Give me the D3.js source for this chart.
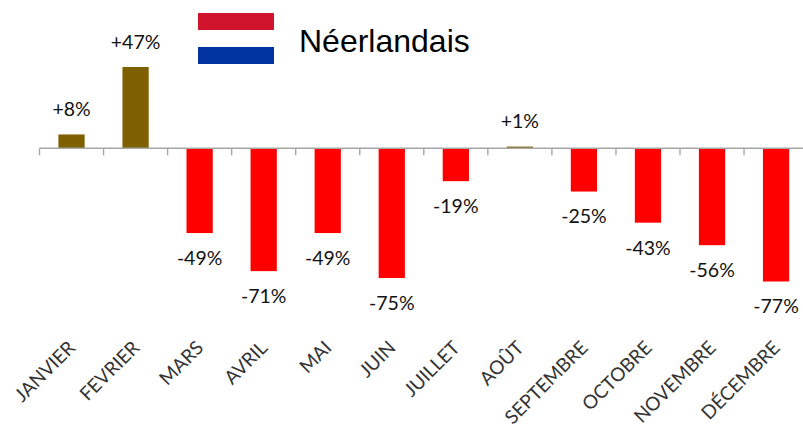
<!DOCTYPE html>
<html>
<head>
<meta charset="utf-8">
<script src="https://cdnjs.cloudflare.com/ajax/libs/d3/7.8.5/d3.min.js"></script>
<style>
  html, body { margin: 0; padding: 0; background: #fff; }
  svg { display: block; }
</style>
</head>
<body>
<script>
const mois = ["JANVIER", "FEVRIER", "MARS", "AVRIL", "MAI", "JUIN", "JUILLET", "AOÛT", "SEPTEMBRE", "OCTOBRE", "NOVEMBRE", "DÉCEMBRE"]
const valeurs = [8, 47, -49, -71, -49, -75, -19, 1, -25, -43, -56, -77]
const titre = "Néerlandais"
const drapeau = ["#cf142b", "#ffffff", "#0033a0"]

const width = 803
const height = 431

const svg = d3.select("body")
    .append("svg")
        .attr("width", width)
        .attr("height", height)

// EJE X: 12 bandes de 64px, la derniere sort a droite de l'image
const debutBandes = 39.5
const x = d3.scaleBand()
    .domain(mois)
    .range([debutBandes, debutBandes + 64.05 * 12])
    .paddingInner(0.59)
    .paddingOuter(0.295)

// EJE Y
const y = d3.scaleLinear()
    .domain([-77, 47])
    .range([281.5, 67])

// ticks entre les barres
const pas = x.step()

svg.append("g")
    .selectAll("line")
    .data(d3.range(mois.length + 1))
    .join("line")
        .attr("x1", d => debutBandes + d * pas)
        .attr("x2", d => debutBandes + d * pas)
        .attr("y1", y(0))
        .attr("y2", y(0) + 7)
        .attr("stroke", "#a6a6a6")
        .attr("stroke-width", 1.4)

// Barres
svg.append("g")
    .selectAll("rect")
    .data(valeurs)
    .join("rect")
        .attr("x", (d, i) => x(mois[i]))
        .attr("y", d => y(Math.max(d, 0)))
        .attr("width", x.bandwidth())
        .attr("height", d => Math.abs(y(d) - y(0)))
        .attr("fill", d => d >= 0 ? "#7f6000" : "#ff0000")

svg.append("line")
    .attr("x1", debutBandes)
    .attr("x2", width)
    .attr("y1", y(0))
    .attr("y2", y(0))
    .attr("stroke", "#a6a6a6")
    .attr("stroke-width", 1.4)

// Etiquettes des valeurs
svg.append("g")
    .selectAll("text")
    .data(valeurs)
    .join("text")
        .attr("x", (d, i) => x(mois[i]) + x.bandwidth() / 2)
        .attr("y", d => y(d) + (d >= 0 ? -25 : 25))
        .attr("dy", "0.35em")
        .attr("text-anchor", "middle")
        .attr("font-family", "Lato, sans-serif")
        .attr("font-size", 19.5)
        .attr("fill", "#111111")
        .text(d => (d > 0 ? "+" : "") + d + "%")

// Mois en diagonale
svg.append("g")
    .selectAll("text")
    .data(mois)
    .join("text")
        .attr("transform", d => "translate(" + (x(d) + x.bandwidth() / 2 + 5) + ",349) rotate(-45)")
        .attr("text-anchor", "end")
        .attr("font-family", "Lato, sans-serif")
        .attr("font-size", 19)
        .attr("fill", "#333333")
        .text(d => d)

// Drapeau et titre
svg.append("g")
    .selectAll("rect")
    .data(drapeau)
    .join("rect")
        .attr("x", 198)
        .attr("y", (d, i) => 13 + i * 17)
        .attr("width", 76)
        .attr("height", 17)
        .attr("fill", d => d)

svg.append("text")
    .attr("x", 299)
    .attr("y", 52)
    .attr("font-family", "'Liberation Sans', Arial, sans-serif")
    .attr("font-size", 32)
    .attr("fill", "#000")
    .text(titre)
</script>
</body>
</html>
